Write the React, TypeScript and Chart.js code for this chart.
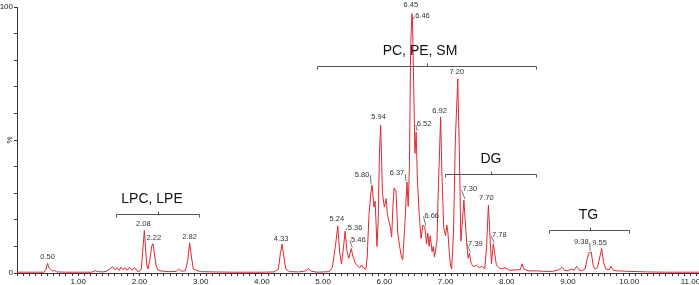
import React, { useEffect, useRef } from "react";
import { Chart, registerables } from "chart.js";

Chart.register(...registerables);

// ---- data ----
const retentionTimes = [
  0.0, 0.44, 0.47, 0.5, 0.52, 0.55, 0.58, 0.61, 0.65, 0.8, 1.0, 1.22, 1.28, 1.32, 1.4, 1.46,
  1.52, 1.56, 1.6, 1.64, 1.67, 1.7, 1.73, 1.77, 1.8, 1.84, 1.88, 1.92, 1.96, 2.0, 2.03, 2.06,
  2.08, 2.1, 2.12, 2.14, 2.17, 2.2, 2.22, 2.24, 2.27, 2.3, 2.35, 2.42, 2.5, 2.6, 2.64, 2.68,
  2.75, 2.79, 2.82, 2.85, 2.88, 2.93, 3.0, 3.2, 3.5, 4.0, 4.2, 4.27, 4.3, 4.33, 4.36, 4.39,
  4.45, 4.6, 4.72, 4.76, 4.8, 4.9, 5.1, 5.15, 5.2, 5.24, 5.27, 5.3, 5.33, 5.36, 5.39, 5.42,
  5.46, 5.49, 5.53, 5.57, 5.6, 5.63, 5.66, 5.7, 5.72, 5.75, 5.78, 5.8, 5.83, 5.85, 5.88, 5.9,
  5.92, 5.94, 5.97, 6.0, 6.03, 6.05, 6.08, 6.1, 6.12, 6.14, 6.16, 6.19, 6.22, 6.25, 6.28, 6.3,
  6.33, 6.37, 6.39, 6.41, 6.43, 6.45, 6.46, 6.48, 6.5, 6.52, 6.54, 6.57, 6.6, 6.63, 6.66, 6.69,
  6.71, 6.73, 6.75, 6.78, 6.8, 6.82, 6.84, 6.86, 6.88, 6.92, 6.94, 6.97, 7.0, 7.02, 7.04, 7.06,
  7.08, 7.1, 7.13, 7.16, 7.2, 7.23, 7.25, 7.27, 7.3, 7.32, 7.35, 7.37, 7.39, 7.42, 7.46, 7.5,
  7.55, 7.6, 7.64, 7.67, 7.7, 7.73, 7.75, 7.78, 7.8, 7.83, 7.87, 7.92, 7.97, 8.05, 8.15, 8.22,
  8.25, 8.28, 8.35, 8.5, 8.6, 8.75, 8.85, 8.9, 8.94, 9.0, 9.05, 9.1, 9.14, 9.18, 9.22, 9.28,
  9.31, 9.34, 9.38, 9.41, 9.44, 9.48, 9.52, 9.55, 9.58, 9.62, 9.67, 9.7, 9.74, 9.8, 9.9, 10.0,
  10.3, 10.6, 11.2,
];
const intensities = [
  0.3, 0.3, 1.2, 3.6, 2.0, 1.4, 0.7, 1.0, 0.4, 0.3, 0.3, 0.3, 0.9, 0.5, 0.4, 0.6,
  1.6, 2.4, 1.2, 2.0, 1.0, 2.2, 1.3, 2.0, 1.0, 2.2, 1.0, 2.0, 0.8, 0.6, 1.5, 10,
  16, 9, 3, 1.5, 5, 10, 11, 8, 3, 1.2, 0.8, 0.6, 0.5, 0.6, 1.5, 0.7,
  0.8, 5, 11.3, 6, 1.5, 1.0, 0.5, 0.4, 0.3, 0.3, 0.4, 1.5, 7, 10.8, 6, 1.5,
  0.5, 0.4, 0.8, 1.8, 0.7, 0.3, 0.5, 2, 10, 17.7, 8, 3.5, 9, 15.7, 8, 5.5,
  9.2, 6, 3.6, 2.5, 2.0, 3.0, 1.8, 1.5, 6, 22, 30, 33, 24.8, 27, 10, 20,
  45, 55.6, 30, 24.8, 28, 22, 19, 17, 13.5, 25, 32, 31, 15, 10, 6, 5,
  16, 34.2, 25, 40, 85, 97.5, 95, 70, 45, 53, 35, 22, 13, 18, 17.5, 11,
  15, 10, 14, 8, 10, 6, 9, 12, 30, 58.7, 38, 17, 14, 18, 15, 8,
  3, 1.5, 15, 50, 73, 40, 12, 18, 27.4, 20, 10, 5.5, 7.4, 3.5, 2.3, 3,
  2, 2.5, 1.5, 10, 25.5, 12, 3.5, 11, 8, 3, 2, 1.5, 2, 1.0, 1.2, 1.2,
  3.5, 1.5, 0.8, 0.8, 0.6, 0.6, 1.2, 2.2, 1.0, 0.8, 1.5, 1.0, 2.5, 1.2, 0.8, 1.5,
  5, 7.5, 7.9, 3, 1.5, 2, 6, 9.2, 4, 1.5, 1.2, 2.5, 1.0, 0.8, 0.7, 0.6,
  0.4, 0.3, 0.3,
];
const peakLabels = [
  "0.50", "2.08", "2.22", "2.82", "4.33", "5.24", "5.36", "5.46", "5.80", "5.94", "6.37",
  "6.45", "6.46", "6.52", "6.66", "6.92", "7.20", "7.30", "7.39", "7.70", "7.78", "9.38", "9.55",
];
const groupNames = ["LPC, LPE", "PC, PE, SM", "DG", "TG"];
const groupStarts = [1.62, 4.9, 6.985, 8.685];
const groupEnds = [2.98, 8.48, 8.48, 10.0];
const groupLevels = [22.3, 78, 37.4, 16];
const xTickLabels = ["1.00", "2.00", "3.00", "4.00", "5.00", "6.00", "7.00", "8.00", "9.00", "10.00", "11.00"];
const yTickLabels = ["0", "100"];
const yUnit = "%";

// ---- layout / style (label placement offsets in px: dx, dy, leader) ----
const labelLayout: Record<string, [number, number, boolean]> = {
  "0.50": [0, -2, false],
  "2.08": [-1, -2, false],
  "2.22": [1, -1, false],
  "2.82": [0, -1, false],
  "4.33": [-1, -1, false],
  "5.24": [-1, -2, false],
  "5.36": [10, 1, true],
  "5.46": [7, -4, true],
  "5.80": [-10, -6, true],
  "5.94": [-2, -3, false],
  "6.37": [-10, -4, true],
  "6.45": [-1, -4, false],
  "6.46": [10, 0, true],
  "6.52": [8, -3, true],
  "6.66": [7, -6, true],
  "6.92": [-1, -1, false],
  "7.20": [-1, -2, false],
  "7.30": [6, -6, true],
  "7.39": [6, -5, true],
  "7.70": [-2, -2, false],
  "7.78": [6, -4, true],
  "9.38": [-10, -5, true],
  "9.55": [-2, -1, false],
};
const groupLabelDx = [-6, -7, 0, -1];

const FONT = "'Liberation Sans', Arial, sans-serif";
const TRACE = "#e2262e";
const AXIS = "#333333";

const annotationPlugin = {
  id: "annotations",
  afterDatasetsDraw(chart: any) {
    const ctx = chart.ctx as CanvasRenderingContext2D;
    const xs = chart.scales.x;
    const ys = chart.scales.y;
    ctx.save();
    // peak labels
    ctx.font = `7.5px ${FONT}`;
    ctx.fillStyle = "#333";
    ctx.textAlign = "center";
    ctx.textBaseline = "bottom";
    ctx.strokeStyle = "#555";
    ctx.lineWidth = 0.8;
    peakLabels.forEach((lab) => {
      const t = parseFloat(lab);
      let idx = 0;
      let best = Infinity;
      retentionTimes.forEach((rt, i) => {
        const d = Math.abs(rt - t);
        if (d < best) {
          best = d;
          idx = i;
        }
      });
      const px = xs.getPixelForValue(t);
      const py = ys.getPixelForValue(intensities[idx]);
      const [dx, dy, leader] = labelLayout[lab] || [0, -2, false];
      const tx = px + dx;
      const ty = py + dy - 1;
      ctx.fillText(lab, tx, ty);
      if (leader) {
        const w = ctx.measureText(lab).width;
        const ex = dx > 0 ? tx - w / 2 - 1 : tx + w / 2 + 1;
        ctx.beginPath();
        ctx.moveTo(px + (dx > 0 ? 1 : -1), py - 1);
        ctx.lineTo(ex, ty - 3);
        ctx.stroke();
      }
    });
    // group brackets
    ctx.strokeStyle = "#555";
    ctx.lineWidth = 1;
    ctx.fillStyle = "#111";
    ctx.font = `14px ${FONT}`;
    ctx.textBaseline = "alphabetic";
    groupNames.forEach((name, i) => {
      const x1 = Math.round(xs.getPixelForValue(groupStarts[i])) + 0.5;
      const x2 = Math.round(xs.getPixelForValue(groupEnds[i])) + 0.5;
      const yb = Math.round(ys.getPixelForValue(groupLevels[i])) + 0.5;
      const xm = Math.round((x1 + x2) / 2) + 0.5;
      ctx.beginPath();
      ctx.moveTo(x1, yb + 3);
      ctx.lineTo(x1, yb);
      ctx.lineTo(x2, yb);
      ctx.lineTo(x2, yb + 3);
      ctx.moveTo(xm, yb);
      ctx.lineTo(xm, yb - 3);
      ctx.stroke();
      ctx.fillText(name, (x1 + x2) / 2 + groupLabelDx[i], yb - 12);
    });
    // y unit label (rotated)
    ctx.save();
    ctx.font = `8px ${FONT}`;
    ctx.fillStyle = "#222";
    ctx.translate(10, ys.getPixelForValue(50));
    ctx.rotate(-Math.PI / 2);
    ctx.textAlign = "center";
    ctx.textBaseline = "middle";
    ctx.fillText(yUnit, 0, 0);
    ctx.restore();
    ctx.restore();
  },
};

export default function App() {
  const ref = useRef<HTMLCanvasElement | null>(null);
  useEffect(() => {
    if (!ref.current) return;
    const points = retentionTimes.map((t, i) => ({ x: t, y: intensities[i] }));
    const chart = new Chart(ref.current, {
      type: "line",
      data: {
        datasets: [
          {
            data: points,
            borderColor: TRACE,
            borderWidth: 1,
            pointRadius: 0,
            tension: 0,
            fill: false,
          },
        ],
      },
      options: {
        animation: false,
        responsive: false,
        devicePixelRatio: 1,
        layout: { padding: { top: 7, right: 0, left: 0, bottom: 0 } },
        plugins: { legend: { display: false }, tooltip: { enabled: false } },
        scales: {
          x: {
            type: "linear",
            min: 0,
            max: 11.14,
            afterBuildTicks: (s: any) => {
              const arr = [];
              for (let k = 0; k <= 111; k++) arr.push({ value: k / 10 });
              s.ticks = arr;
            },
            afterFit: (s: any) => {
              s.height = 12;
              s.paddingLeft = 0;
              s.paddingRight = 0;
            },
            ticks: {
              autoSkip: false,
              maxRotation: 0,
              minRotation: 0,
              padding: 1,
              color: "#222",
              font: { size: 8, family: FONT },
              callback: (v: any) => {
                const n = Math.round(Number(v) * 10);
                if (n % 10 !== 0) return "";
                const lab = xTickLabels.find((l) => Math.round(parseFloat(l) * 10) === n);
                return lab || "";
              },
            },
            grid: { drawOnChartArea: false, tickLength: 3, color: AXIS },
            border: { color: AXIS, width: 1 },
          },
          y: {
            min: 0,
            max: 100,
            afterBuildTicks: (s: any) => {
              const arr = [];
              for (let k = 0; k <= 10; k++) arr.push({ value: k * 10 });
              s.ticks = arr;
            },
            afterFit: (s: any) => {
              s.width = 17;
              s.paddingTop = 0;
              s.paddingBottom = 0;
            },
            ticks: {
              autoSkip: false,
              padding: 1,
              color: "#222",
              font: { size: 8, family: FONT },
              callback: (v: any) => {
                const lab = yTickLabels.find((l) => parseFloat(l) === Number(v));
                return lab || "";
              },
            },
            grid: { drawOnChartArea: false, tickLength: 3, color: AXIS },
            border: { color: AXIS, width: 1 },
          },
        },
      },
      plugins: [annotationPlugin],
    });
    return () => chart.destroy();
  }, []);
  return (
    <div style={{ position: "fixed", left: 0, top: 0, width: 699, height: 285, background: "#fff" }}>
      <canvas ref={ref} width={699} height={285} style={{ width: 699, height: 285, display: "block" }} />
    </div>
  );
}
